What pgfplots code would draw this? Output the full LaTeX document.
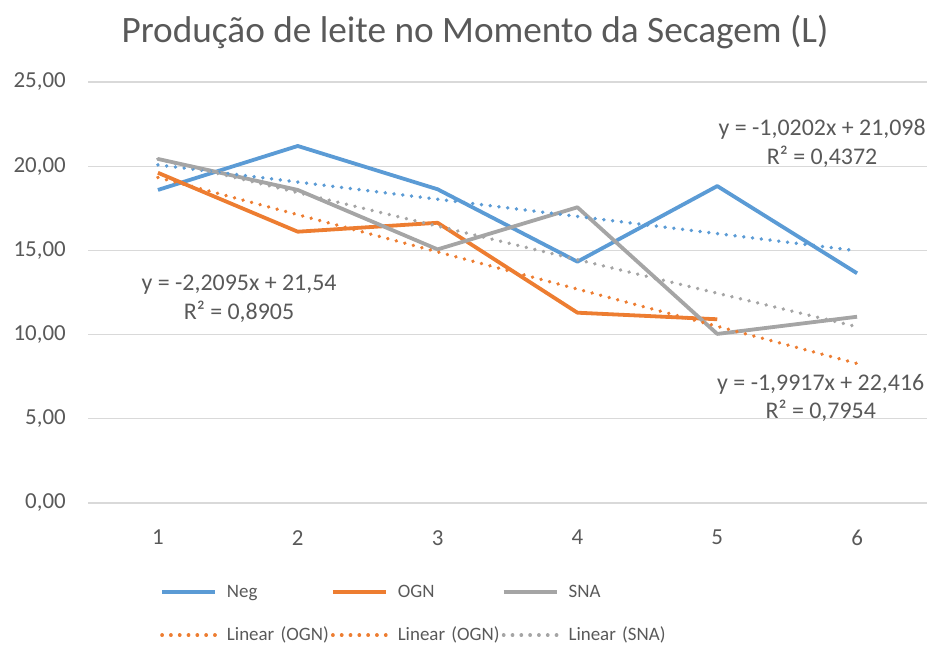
\documentclass[border=0pt]{standalone}
\usepackage{pgfplots}
\pgfplotsset{compat=1.18}
\usepackage{fontspec}
\setmainfont{Carlito}
\definecolor{cblue}{HTML}{5B9BD5}
\definecolor{corange}{HTML}{ED7D31}
\definecolor{cgray}{HTML}{A5A5A5}
\definecolor{ctext}{HTML}{595959}
\definecolor{cgrid}{HTML}{D9D9D9}
\tikzset{trend/.style={line width=3.8bp, dash pattern=on 0.01bp off 8.8bp, line cap=round}}
\begin{document}
\begin{tikzpicture}[x=1bp,y=1bp]
\useasboundingbox (0,0) rectangle (932,660);
\node[text=ctext, font=\fontsize{37.4}{42}\selectfont, anchor=base] at (475,617) {Produção de leite no Momento da Secagem (L)};
\begin{axis}[
  at={(88bp,157bp)}, anchor=south west,
  scale only axis, width=839bp, height=421bp,
  xmin=0.5, xmax=6.5, ymin=0, ymax=25,
  xtick={1,2,3,4,5,6}, ytick={0,5,10,15,20,25},
  ymajorgrids, grid style={cgrid, line width=1.3bp},
  axis line style={draw=none},
  major tick length=0pt,
  /pgf/number format/assume math mode=true,
  tick label style={font=\fontsize{23}{27}\selectfont, text=ctext, inner sep=0pt},
  yticklabel style={anchor=east, xshift=-22bp, /pgf/number format/.cd, fixed, fixed zerofill, precision=2, use comma},
  xticklabel style={anchor=north, yshift=-27bp},
  legend columns=3,
  legend image code/.code={\draw[#1] (0bp,0bp) -- (53bp,0bp);},
  legend style={draw=none, fill=none, inner sep=0pt,
    at={(axis description cs:0.0858,-0.19)}, anchor=north west,
    nodes={inner sep=0pt, text width=104bp, align=left, text height=14bp, text depth=4bp,
           font=\fontsize{19}{23}\selectfont, text=ctext},
    /tikz/every odd column/.append style={column sep=10bp},
    /tikz/every even column/.append style={column sep=0bp},
    row sep=25bp},
  clip=false,
]
\addplot[cblue, line width=3.8bp, line join=round] coordinates {(1,18.59) (2,21.20) (3,18.63) (4,14.33) (5,18.82) (6,13.64)};
\addlegendentry{Neg}
\addplot[corange, line width=3.8bp, line join=round] coordinates {(1,19.61) (2,16.11) (3,16.64) (4,11.30) (5,10.91)};
\addlegendentry{OGN}
\addplot[cgray, line width=3.8bp, line join=round] coordinates {(1,20.43) (2,18.59) (3,15.06) (4,17.56) (5,10.04) (6,11.06)};
\addlegendentry{SNA}
\addplot[cblue, trend, forget plot] coordinates {(1,20.078) (6,14.977)};
\addplot[corange, trend, forget plot] coordinates {(1,19.331) (6,8.283)};
\addplot[cgray, trend, forget plot] coordinates {(1,20.424) (6,10.466)};
\addlegendimage{corange, trend}
\addlegendentry{Linear (OGN)}
\addlegendimage{corange, trend}
\addlegendentry{Linear (OGN)}
\addlegendimage{cgray, trend}
\addlegendentry{Linear (SNA)}
\node[text=ctext, font=\fontsize{24}{29}\selectfont, align=center] at (axis cs:5.75,21.38) {y = -1,0202x + 21,098\\R² = 0,4372};
\node[text=ctext, font=\fontsize{24}{29}\selectfont, align=center] at (axis cs:5.74,6.24) {y = -1,9917x + 22,416\\R² = 0,7954};
\node[text=ctext, font=\fontsize{24}{29}\selectfont, align=center] at (axis cs:1.58,12.11) {y = -2,2095x + 21,54\\R² = 0,8905};
\end{axis}
\end{tikzpicture}
\end{document}
